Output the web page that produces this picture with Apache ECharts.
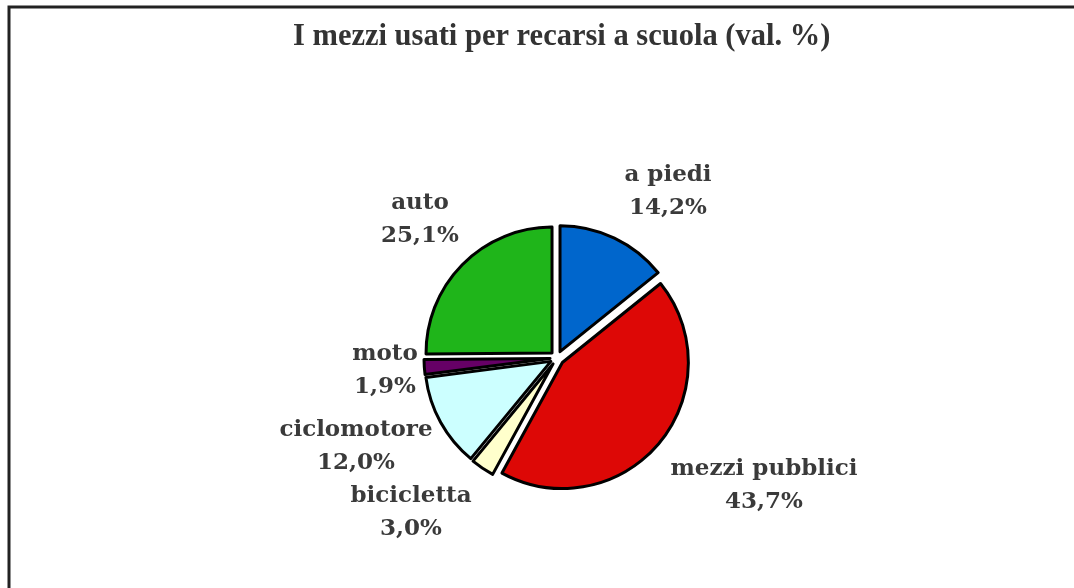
<!DOCTYPE html>
<html>
<head>
<meta charset="utf-8">
<script src="https://cdn.jsdelivr.net/npm/echarts@6/dist/echarts.min.js"></script>
<style>
  html, body { margin: 0; padding: 0; background: #fff; }
  #chart { width: 1074px; height: 588px; }
</style>
</head>
<body>
<div id="chart"></div>
<script>
// dati
const categories = ['a piedi', 'mezzi pubblici', 'bicicletta', 'ciclomotore', 'moto', 'auto'];
const values = [14.2, 43.7, 3.0, 12.0, 1.9, 25.1];
const colors = ['#0066CC', '#DD0806', '#FFFFCC', '#CCFFFF', '#660066', '#1FB51A'];

// centro della torta e posizione delle etichette rispetto al centro
const pieCenter = [557, 358];
const labelOffsets = [[111, -166], [207, 128], [-146, 155], [-201, 89], [-172, 13], [-137, -138]];

const fmt = (v) => v.toFixed(1).replace('.', ',') + '%';

const chart = echarts.init(document.getElementById('chart'));

// etichette come in Excel, spostate a mano
const labels = categories.map((name, i) => ({
    type: 'text',
    x: pieCenter[0] + labelOffsets[i][0],
    y: pieCenter[1] + labelOffsets[i][1],
    silent: true,
    style: {
        text: name + '\n' + fmt(values[i]),
        fontFamily: 'DejaVu Serif',
        fontWeight: 'bold',
        fontSize: 23,
        lineHeight: 33,
        fill: '#3a3a3a',
        textAlign: 'center',
        textVerticalAlign: 'middle'
    }
}));

const option = {
    animation: false,
    title: {
        text: 'I mezzi usati per recarsi a scuola (val. %)',
        left: 288,
        top: 17,
        textStyle: {
            fontFamily: 'Liberation Serif',
            fontWeight: 'bold',
            fontSize: 30.5,
            color: '#333'
        }
    },
    graphic: [
        {
            // cornice
            type: 'rect',
            shape: { x: 9, y: 7, width: 1100, height: 600 },
            style: { fill: 'none', stroke: '#222', lineWidth: 3 },
            silent: true
        }
    ].concat(labels),
    series: [
        {
            type: 'pie',
            center: pieCenter,
            radius: 126,
            startAngle: 90,
            clockwise: true,
            selectedMode: 'multiple',
            selectedOffset: 7,
            itemStyle: {
                borderColor: '#000',
                borderWidth: 3
            },
            label: { show: false },
            labelLine: { show: false },
            emphasis: { disabled: true },
            data: categories.map((name, i) => ({
                name: name,
                value: values[i],
                selected: true,
                itemStyle: { color: colors[i] }
            }))
        }
    ]
};
chart.setOption(option);
</script>
</body>
</html>
